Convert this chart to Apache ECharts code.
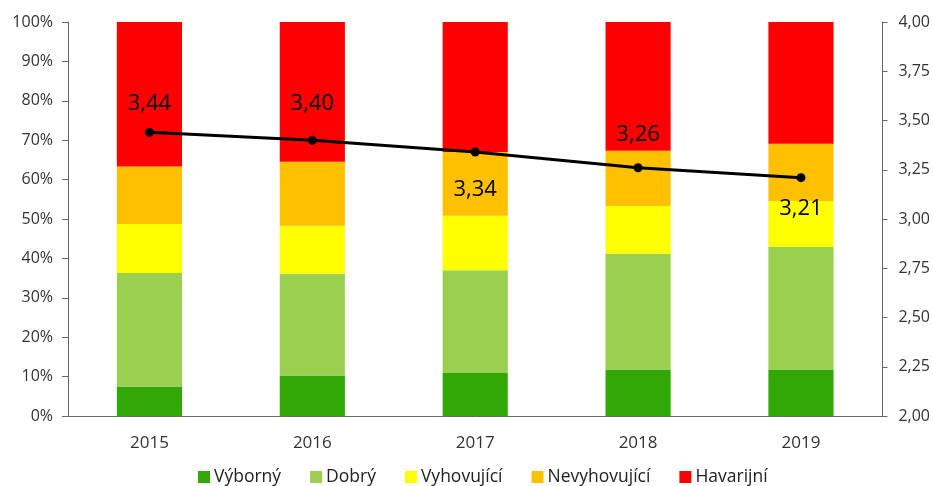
<!DOCTYPE html>
<html><head><meta charset="utf-8">
<script src="https://cdn.jsdelivr.net/npm/echarts@6/dist/echarts.min.js"></script>
<style>html,body{margin:0;padding:0;background:#fff}#c{width:933px;height:486px}</style>
</head><body><div id="c"></div>
<script>
const years = ['2015','2016','2017','2018','2019'];
const vyborny = [7.5, 10.3, 10.9, 11.8, 11.8];
const dobry = [28.8, 25.8, 26.1, 29.4, 31.1];
const vyhovujici = [12.4, 12.2, 13.8, 12.1, 11.7];
const nevyhovujici = [14.6, 16.2, 16.2, 14.0, 14.5];
const havarijni = [36.7, 35.5, 33.0, 32.7, 30.9];
const prumer = [3.44, 3.40, 3.34, 3.26, 3.21];
const labelPos = ['top','top','bottom','top','bottom'];
const labelDist = [13, 21, 22, 18, 16];

const font = '"Open Sans", "DejaVu Sans", sans-serif';
const chart = echarts.init(document.getElementById('c'));
function bar(name, data, color){
  return {name, type:'bar', stack:'s', data, barWidth:'40%', itemStyle:{color}, yAxisIndex:0};
}
chart.setOption({
  animation:false,
  textStyle:{fontFamily:font},
  grid:{left:68, right:50, top:22, bottom:70},
  legend:{top:463, left:193, itemWidth:12, itemHeight:12, itemGap:29,
    icon:'rect', textStyle:{fontSize:17.5, color:'#222', fontFamily:font, padding:[0,0,0,-1]},
    data:['Výborný','Dobrý','Vyhovující','Nevyhovující','Havarijní']},
  xAxis:{type:'category', data:years,
    axisLine:{lineStyle:{color:'#666'}}, axisTick:{show:false},
    axisLabel:{fontSize:17, color:'#333', margin:19}},
  yAxis:[
    {type:'value', min:0, max:100, interval:10, splitLine:{show:false},
     axisLine:{show:true, lineStyle:{color:'#666'}}, axisTick:{show:true, length:6, lineStyle:{color:'#666'}},
     axisLabel:{formatter:'{value}%', fontSize:16, color:'#333', margin:15}},
    {type:'value', min:2, max:4, interval:0.25, splitLine:{show:false},
     axisLine:{show:true, lineStyle:{color:'#666'}}, axisTick:{show:true, length:5, lineStyle:{color:'#666'}},
     axisLabel:{formatter:v=>v.toFixed(2).replace('.',','), fontSize:16, color:'#333', margin:16}}
  ],
  series:[
    bar('Výborný', vyborny, '#31a806'),
    bar('Dobrý', dobry, '#9bcf50'),
    bar('Vyhovující', vyhovujici, '#ffff00'),
    bar('Nevyhovující', nevyhovujici, '#ffc000'),
    bar('Havarijní', havarijni, '#ff0000'),
    {name:'Průměr', type:'line', yAxisIndex:1,
     data: prumer.map((v,i)=>({value:v, label:{position:labelPos[i], distance:labelDist[i]}})),
     symbol:'circle', symbolSize:9, lineStyle:{color:'#000', width:3}, itemStyle:{color:'#000'},
     label:{show:true, fontSize:22, color:'#000', fontFamily:font,
       formatter:p=>p.value.toFixed(2).replace('.',',')}}
  ]
});
</script></body></html>
